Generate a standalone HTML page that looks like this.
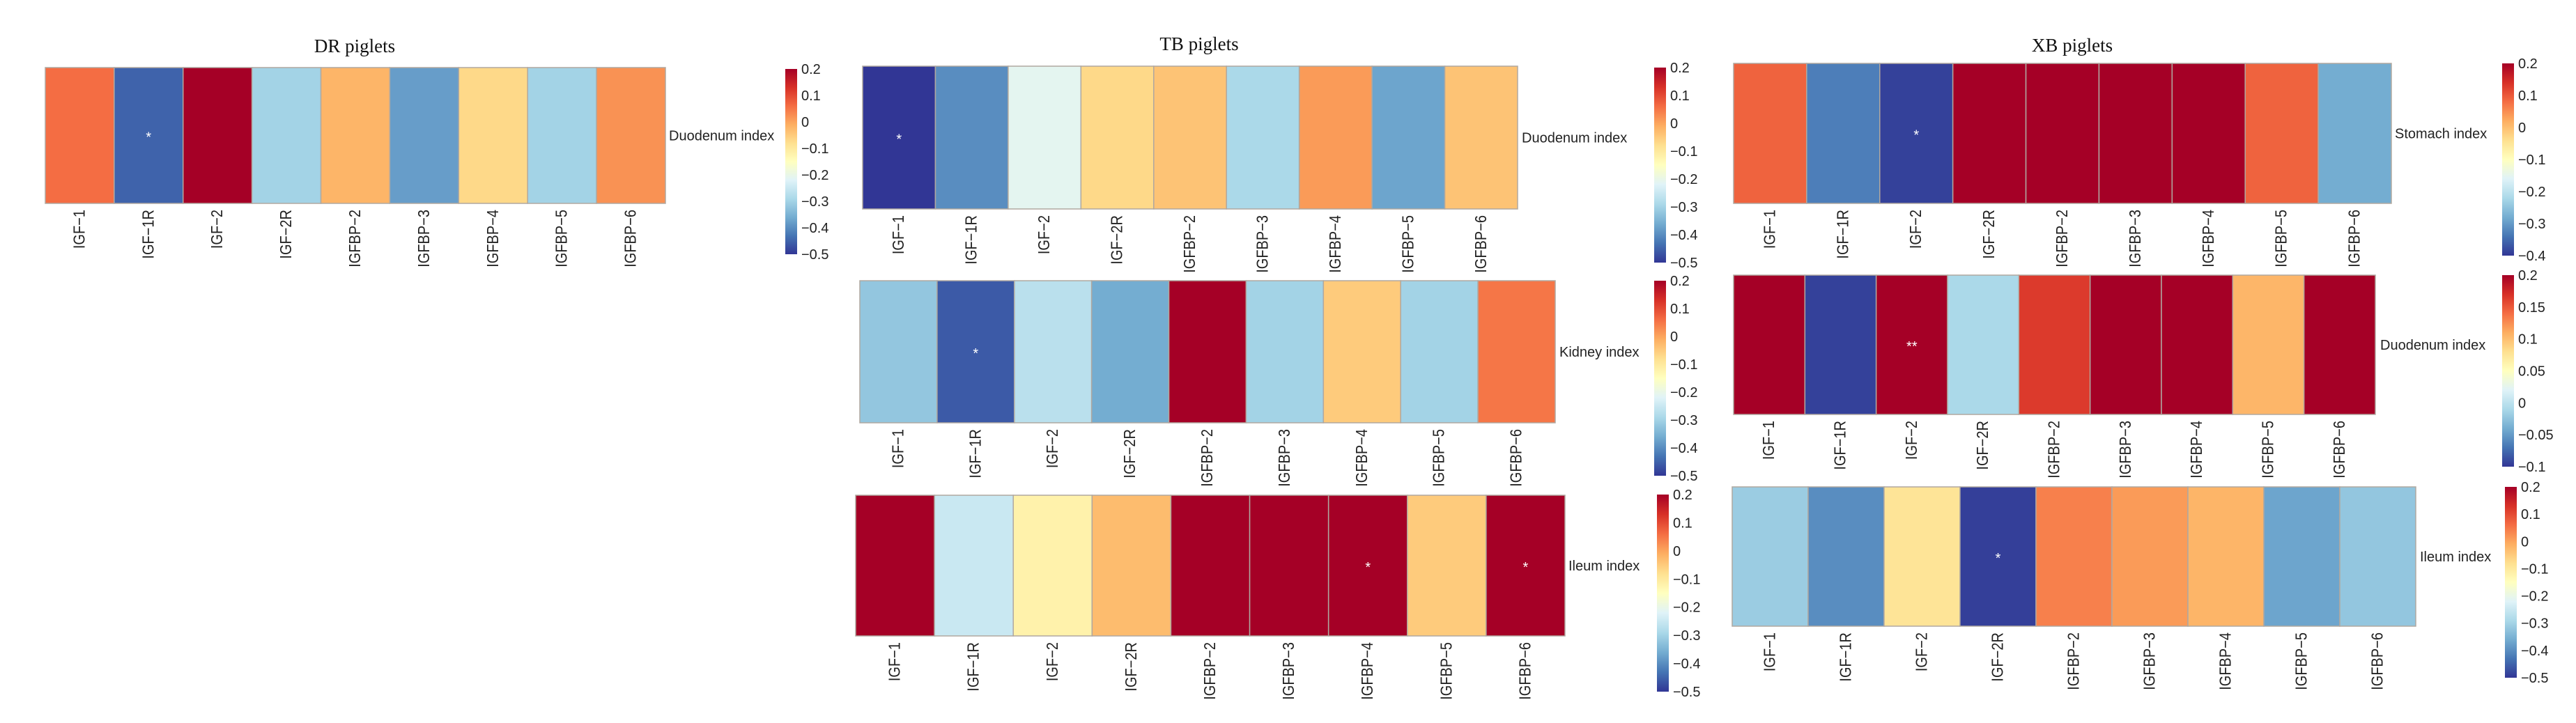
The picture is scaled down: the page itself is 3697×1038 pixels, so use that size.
<!DOCTYPE html>
<html><head><meta charset="utf-8"><style>
html,body{margin:0;padding:0;background:#fff;}
svg{display:block;}
</style></head><body>
<svg id="fig" width="3697" height="1038" viewBox="0 0 3697 1038" xmlns="http://www.w3.org/2000/svg">
<defs>
<linearGradient id="cmap" x1="0" y1="1" x2="0" y2="0">
<stop offset="0" stop-color="#313695"/><stop offset="0.1" stop-color="#4575b4"/><stop offset="0.2" stop-color="#74add1"/><stop offset="0.3" stop-color="#abd9e9"/><stop offset="0.4" stop-color="#e0f3f8"/><stop offset="0.5" stop-color="#ffffbf"/><stop offset="0.6" stop-color="#fee090"/><stop offset="0.7" stop-color="#fdae61"/><stop offset="0.8" stop-color="#f46d43"/><stop offset="0.9" stop-color="#d73027"/><stop offset="1" stop-color="#a50026"/>
</linearGradient>
</defs>
<g font-family="Liberation Serif, serif" font-size="27" fill="#111" text-anchor="middle">
<text x="509" y="75">DR piglets</text>
<text x="1721" y="72">TB piglets</text>
<text x="2974" y="74">XB piglets</text>
</g>
</svg>
<script>
const genes = ["IGF\u22121","IGF\u22121R","IGF\u22122","IGF\u22122R","IGFBP\u22122","IGFBP\u22123","IGFBP\u22124","IGFBP\u22125","IGFBP\u22126"];
const drDuodenum = [0.06,-0.45,0.2,-0.3,-0.02,-0.38,-0.07,-0.3,0.02];
const tbDuodenum = [-0.5,-0.4,-0.21,-0.07,-0.04,-0.29,0.01,-0.37,-0.04];
const tbKidney = [-0.32,-0.46,-0.27,-0.36,0.2,-0.3,-0.05,-0.3,0.05];
const tbIleum = [0.2,-0.25,-0.12,-0.03,0.2,0.2,0.2,-0.05,0.2];
const xbStomach = [0.09,-0.33,-0.39,0.2,0.2,0.2,0.2,0.09,-0.28];
const xbDuodenum = [0.2,-0.095,0.2,-0.01,0.165,0.2,0.2,0.105,0.2];
const xbIleum = [-0.31,-0.4,-0.09,-0.49,0.04,0.01,-0.02,-0.37,-0.32];
const drDuodenumSig = ["","*","","","","","","",""];
const tbDuodenumSig = ["*","","","","","","","",""];
const tbKidneySig = ["","*","","","","","","",""];
const tbIleumSig = ["","","","","","","*","","*"];
const xbStomachSig = ["","","*","","","","","",""];
const xbDuodenumSig = ["","","**","","","","","",""];
const xbIleumSig = ["","","","*","","","","",""];
const ticks8 = ["0.2","0.1","0","\u22120.1","\u22120.2","\u22120.3","\u22120.4","\u22120.5"];
const ticksStomach = ["0.2","0.1","0","\u22120.1","\u22120.2","\u22120.3","\u22120.4"];
const ticksXbDuo = ["0.2","0.15","0.1","0.05","0","\u22120.05","\u22120.1"];

const stops=["#313695","#4575b4","#74add1","#abd9e9","#e0f3f8","#ffffbf","#fee090","#fdae61","#f46d43","#d73027","#a50026"];
function hex(h){return [1,3,5].map(i=>parseInt(h.substr(i,2),16));}
function cmap(t){t=Math.max(0,Math.min(1,t));const p=t*10,i=Math.min(9,Math.floor(p)),f=p-i;const a=hex(stops[i]),b=hex(stops[i+1]);return "rgb("+a.map((v,k)=>Math.round(v+(b[k]-v)*f)).join(",")+")";}

const NS="http://www.w3.org/2000/svg";
const svg=document.getElementById("fig");
function mk(tag,attrs,parent){const e=document.createElementNS(NS,tag);for(const k in attrs)e.setAttribute(k,attrs[k]);(parent||svg).appendChild(e);return e;}

const panels=[
 {id:"dr-duodenum",vals:drDuodenum,sig:drDuodenumSig,ticks:ticks8,min:-0.5,max:0.2,x0:65,x1:955,y0:97,y1:292,cbx:1127,cby0:99,cby1:365,label:"Duodenum index",lx:960},
 {id:"tb-duodenum",vals:tbDuodenum,sig:tbDuodenumSig,ticks:ticks8,min:-0.5,max:0.2,x0:1238,x1:2178,y0:95,y1:300,cbx:2374,cby0:97,cby1:377,label:"Duodenum index",lx:2184},
 {id:"tb-kidney",vals:tbKidney,sig:tbKidneySig,ticks:ticks8,min:-0.5,max:0.2,x0:1234,x1:2232,y0:403,y1:607,cbx:2374,cby0:403,cby1:683,label:"Kidney index",lx:2238},
 {id:"tb-ileum",vals:tbIleum,sig:tbIleumSig,ticks:ticks8,min:-0.5,max:0.2,x0:1228,x1:2246,y0:711,y1:913,cbx:2378,cby0:710,cby1:993,label:"Ileum index",lx:2251},
 {id:"xb-stomach",vals:xbStomach,sig:xbStomachSig,ticks:ticksStomach,min:-0.4,max:0.2,x0:2488,x1:3432,y0:91,y1:292,cbx:3591,cby0:91,cby1:367,label:"Stomach index",lx:3437},
 {id:"xb-duodenum",vals:xbDuodenum,sig:xbDuodenumSig,ticks:ticksXbDuo,min:-0.1,max:0.2,x0:2488,x1:3409,y0:395,y1:595,cbx:3591,cby0:395,cby1:670,label:"Duodenum index",lx:3416},
 {id:"xb-ileum",vals:xbIleum,sig:xbIleumSig,ticks:ticks8,min:-0.5,max:0.2,x0:2486,x1:3467,y0:699,y1:899,cbx:3595,cby0:699,cby1:973,label:"Ileum index",lx:3473}
];

panels.forEach(p=>{
 const g=mk("g",{});
 
 
 const n=p.vals.length, w=(p.x1-p.x0)/n;
 const xs=i=>p.x0+i*w;
 const cs=v=>(v-p.min)/(p.max-p.min);
 p.vals.forEach((v,i)=>{
  const r=mk("rect",{x:xs(i),y:p.y0,width:w,height:p.y1-p.y0,fill:cmap(cs(v)),stroke:"#b0a8a0","stroke-width":1.5},g);
  
  
  if(p.sig[i]){
   const s=mk("text",{x:xs(i)+w/2,y:(p.y0+p.y1)/2+9,fill:"#fff","font-size":20,"font-family":"Liberation Sans, sans-serif","text-anchor":"middle"},g);
   s.textContent=p.sig[i];
   
   
  }
  const t=mk("text",{transform:"translate("+(xs(i)+w/2+7)+","+(p.y1+9)+") rotate(-90) scale(1,1.15)","text-anchor":"end","font-size":20,"font-family":"Liberation Sans, sans-serif",fill:"#222"},g);
  t.textContent=genes[i];
  
  
 });
 const lab=mk("text",{x:p.lx,y:(p.y0+p.y1)/2+7,"font-size":20,"font-family":"Liberation Sans, sans-serif",fill:"#222"},g);
 lab.textContent=p.label;
 
 
 const cb=mk("rect",{x:p.cbx,y:p.cby0,width:17,height:p.cby1-p.cby0,fill:"url(#cmap)"},g);
 
 
 const m=p.ticks.length;
 p.ticks.forEach((tk,j)=>{
  const y=p.cby0+(p.cby1-p.cby0)*j/(m-1);
  const t=mk("text",{x:p.cbx+23,y:y+7,"font-size":20,"font-family":"Liberation Sans, sans-serif",fill:"#222"},g);
  t.textContent=tk;
  
  
 });
});
</script>
</body></html>
